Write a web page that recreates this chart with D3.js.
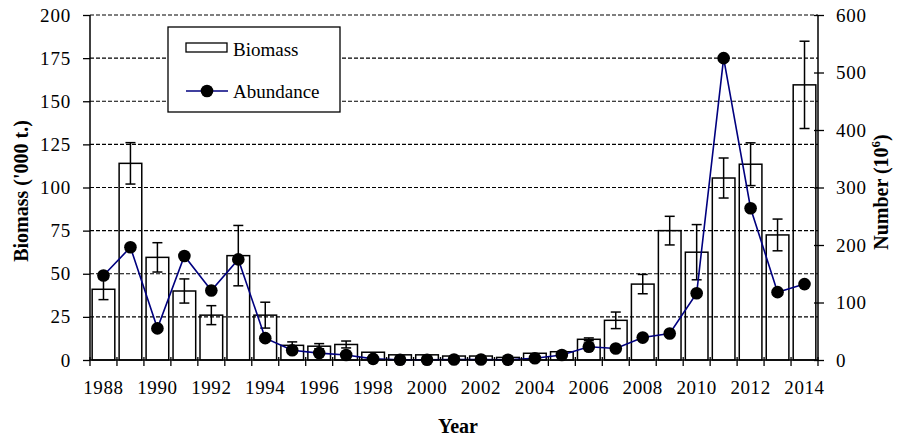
<!DOCTYPE html>
<html>
<head>
<meta charset="utf-8">
<script src="https://cdn.jsdelivr.net/npm/d3@7"></script>
<style>
  body { margin: 0; background: #fff; }
  text { font-family: "Liberation Serif", "Times New Roman", serif; fill: #000; }
</style>
</head>
<body>
<script>
// chart data
var years = d3.range(1988, 2015);
var biomass = [41, 114, 59.5, 40, 26, 60.5, 26, 8.5, 8, 9, 4.5, 3, 3, 2.3, 2.3, 1.5, 3.9, 4.8, 12,
               23, 44, 75, 62.5, 105.5, 113.5, 72.5, 159.5];
var biomassErr = [6, 12, 8.5, 7, 5.5, 17.5, 7.5, 2, 1.5, 2, 0, 0, 0, 0, 0, 0, 0, 0, 0.8,
                  4.8, 5.6, 8.3, 16, 11.6, 12.4, 9.2, 25.3];
var abundance = [147, 196, 55, 181, 121, 175, 38, 17, 12, 8.7, 2, 0.5, 0.5, 1, 1, 0.5, 3, 8.7, 23,
                 20, 39, 46, 116, 525, 264, 118, 132];
var leftTicks = [0, 25, 50, 75, 100, 125, 150, 175, 200];
var rightTicks = [0, 100, 200, 300, 400, 500, 600];
var labelYears = years.filter(function(d) { return (d - 1988) % 2 === 0; });

var width = 898, height = 443;
var plotL = 90, plotR = 818, plotT = 15, plotB = 360;

var svg = d3.select('body').append('svg')
  .attr('width', width)
  .attr('height', height);

var x = d3.scaleBand().domain(years).range([plotL, plotR]).padding(0);
var yL = d3.scaleLinear().domain([0, 200]).range([plotB, plotT]);
var yR = d3.scaleLinear().domain([0, 600]).range([plotB, plotT]);
var barW = x.step() * 0.84;

// dashed gridlines
svg.selectAll('line.grid')
  .data(leftTicks.filter(function(d) { return d > 0; }))
  .enter().append('line')
  .attr('x1', plotL).attr('x2', plotR)
  .attr('y1', function(d) { return yL(d); })
  .attr('y2', function(d) { return yL(d); })
  .attr('stroke', '#000')
  .attr('stroke-width', 1.2)
  .attr('stroke-dasharray', '4,2');

// bars (no fill)
svg.selectAll('rect.bar')
  .data(years)
  .enter().append('rect')
  .attr('x', function(d) { return x(d) + (x.step() - barW) / 2; })
  .attr('y', function(d, i) { return yL(biomass[i]); })
  .attr('width', barW)
  .attr('height', function(d, i) { return plotB - yL(biomass[i]); })
  .attr('fill', 'none')
  .attr('stroke', '#000')
  .attr('stroke-width', 1.5);

// error bars
var errs = svg.append('g');
years.forEach(function(d, i) {
  if (!biomassErr[i]) return;
  var cx = x(d) + x.step() / 2;
  var hi = yL(biomass[i] + biomassErr[i]), lo = yL(biomass[i] - biomassErr[i]);
  errs.append('line').attr('x1', cx).attr('x2', cx).attr('y1', hi).attr('y2', lo)
    .attr('stroke', '#000').attr('stroke-width', 1.5);
  [hi, lo].forEach(function(v) {
    errs.append('line').attr('x1', cx - 5).attr('x2', cx + 5).attr('y1', v).attr('y2', v)
      .attr('stroke', '#000').attr('stroke-width', 1.5);
  });
});

// abundance line + dots
var line = d3.line()
  .x(function(d, i) { return x(years[i]) + x.step() / 2; })
  .y(function(d) { return yR(d); });

svg.append('path')
  .datum(abundance)
  .attr('d', line)
  .attr('fill', 'none')
  .attr('stroke', '#00007f')
  .attr('stroke-width', 1.6);

svg.selectAll('circle.dot')
  .data(abundance)
  .enter().append('circle')
  .attr('cx', function(d, i) { return x(years[i]) + x.step() / 2; })
  .attr('cy', function(d) { return yR(d); })
  .attr('r', 6.3)
  .attr('fill', '#000');

// axes
var axisL = svg.append('g').attr('transform', 'translate(' + plotL + ',0)')
  .call(d3.axisLeft(yL).tickValues(leftTicks).tickSize(7).tickPadding(12));
var axisR = svg.append('g').attr('transform', 'translate(' + plotR + ',0)')
  .call(d3.axisRight(yR).tickValues(rightTicks).tickSize(6).tickPadding(12));
[axisL, axisR].forEach(function(a) {
  a.select('.domain').attr('stroke-width', 1.5).attr('d', 'M0,' + plotT + 'V' + plotB);
  a.selectAll('.tick line').attr('stroke-width', 1.3);
  a.selectAll('text')
    .style('font-family', '"Liberation Serif", serif')
    .style('font-size', '19px')
    .style('letter-spacing', '0.8px');
});
axisR.selectAll('.tick line').attr('x1', -4);

// x axis
svg.append('line')
  .attr('x1', plotL).attr('x2', plotR)
  .attr('y1', plotB).attr('y2', plotB)
  .attr('stroke', '#000').attr('stroke-width', 1.5);

svg.selectAll('line.xtick')
  .data(years.concat([2015]))
  .enter().append('line')
  .attr('x1', function(d) { return d === 2015 ? plotR : x(d); })
  .attr('x2', function(d) { return d === 2015 ? plotR : x(d); })
  .attr('y1', plotB - 3).attr('y2', plotB + 6)
  .attr('stroke', '#000').attr('stroke-width', 1.3);

svg.selectAll('text.xlab')
  .data(labelYears)
  .enter().append('text')
  .attr('x', function(d) { return x(d) + x.step() / 2; })
  .attr('y', 394)
  .attr('text-anchor', 'middle')
  .style('font-size', '19px')
  .style('letter-spacing', '0.6px')
  .text(function(d) { return d; });

// titles
svg.append('text')
  .attr('x', (plotL + plotR) / 2 + 4).attr('y', 433)
  .attr('text-anchor', 'middle')
  .style('font-size', '20px').style('font-weight', 'bold')
  .text('Year');

svg.append('text')
  .attr('transform', 'translate(28,191) rotate(-90)')
  .attr('text-anchor', 'middle')
  .style('font-size', '20px').style('font-weight', 'bold')
  .text("Biomass ('000 t.)");

var rt = svg.append('text')
  .attr('transform', 'translate(888,192) rotate(-90)')
  .attr('text-anchor', 'middle')
  .style('font-size', '20px').style('font-weight', 'bold');
rt.append('tspan').text('Number (10');
rt.append('tspan').attr('dy', -8).style('font-size', '13px').text('6');
rt.append('tspan').attr('dy', 8).text(')');

// legend
var lg = svg.append('g');
lg.append('rect')
  .attr('x', 168).attr('y', 27).attr('width', 172).attr('height', 85)
  .attr('fill', '#fff').attr('stroke', '#000').attr('stroke-width', 1.3);
lg.append('rect')
  .attr('x', 186).attr('y', 43).attr('width', 41).attr('height', 9)
  .attr('fill', '#fff').attr('stroke', '#000').attr('stroke-width', 1.3);
lg.append('text').attr('x', 233).attr('y', 56).style('font-size', '19px').text('Biomass');
lg.append('line')
  .attr('x1', 186).attr('x2', 228).attr('y1', 91).attr('y2', 91)
  .attr('stroke', '#00007f').attr('stroke-width', 1.6);
lg.append('circle').attr('cx', 207).attr('cy', 91).attr('r', 6.3).attr('fill', '#000');
lg.append('text').attr('x', 233).attr('y', 98).style('font-size', '19px').text('Abundance');
</script>
</body>
</html>
